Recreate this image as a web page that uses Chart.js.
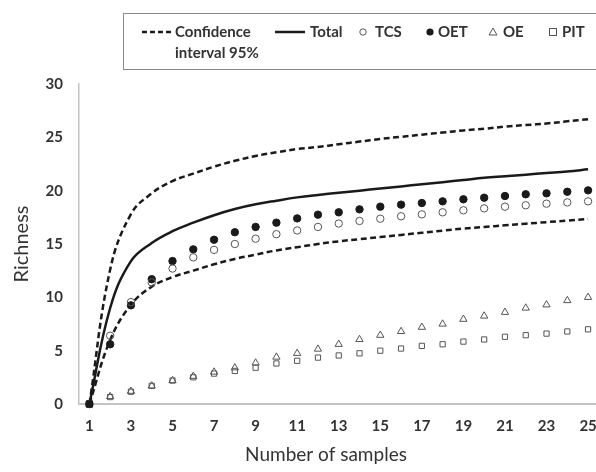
<!DOCTYPE html>
<html>
<head>
<meta charset="utf-8">
<style>
  html, body { margin: 0; padding: 0; background: #fff; overflow: hidden; }
  #wrap { width: 610px; height: 472px; }
</style>
</head>
<body>
<div id="wrap">
  <canvas id="myChart" width="610" height="472"></canvas>
</div>
<script src="https://cdn.jsdelivr.net/npm/chart.js"></script>
<script>
    // samples 1..25
    const samples = ['1','2','3','4','5','6','7','8','9','10','11','12','13','14','15','16','17','18','19','20','21','22','23','24','25'];

    const ciUpper = [0, 12.6, 17.8, 19.75, 20.9, 21.6, 22.25, 22.8, 23.25, 23.6, 23.9, 24.1, 24.35, 24.6, 24.85, 25.05, 25.25, 25.45, 25.65, 25.8, 26.0, 26.15, 26.3, 26.5, 26.7];
    const ciLower = [0, 6.0, 9.3, 11.0, 11.9, 12.5, 13.1, 13.6, 14.0, 14.4, 14.7, 15.0, 15.25, 15.45, 15.65, 15.85, 16.05, 16.25, 16.45, 16.6, 16.75, 16.9, 17.05, 17.2, 17.35];
    const total   = [0, 9.0, 13.4, 15.1, 16.2, 17.0, 17.7, 18.28, 18.72, 19.06, 19.37, 19.6, 19.8, 20.0, 20.2, 20.4, 20.6, 20.8, 21.0, 21.2, 21.35, 21.5, 21.65, 21.8, 22.0];
    const tcs     = [0, 6.4, 9.55, 11.4, 12.7, 13.75, 14.45, 15.0, 15.5, 15.92, 16.27, 16.6, 16.92, 17.16, 17.37, 17.6, 17.78, 17.97, 18.16, 18.34, 18.5, 18.63, 18.78, 18.9, 19.0];
    const oet     = [0, 5.6, 9.25, 11.7, 13.4, 14.5, 15.4, 16.1, 16.6, 17.0, 17.4, 17.75, 17.97, 18.25, 18.5, 18.69, 18.84, 19.0, 19.19, 19.34, 19.5, 19.66, 19.75, 19.9, 20.03];
    const oe      = [0, 0.7, 1.2, 1.7, 2.2, 2.6, 3.0, 3.4, 3.85, 4.4, 4.75, 5.15, 5.6, 6.05, 6.45, 6.8, 7.2, 7.5, 7.95, 8.25, 8.6, 9.0, 9.3, 9.7, 10.0];
    const pit     = [0, 0.65, 1.15, 1.7, 2.2, 2.5, 2.85, 3.1, 3.4, 3.8, 4.05, 4.35, 4.55, 4.75, 5.0, 5.2, 5.45, 5.6, 5.85, 6.05, 6.3, 6.45, 6.6, 6.8, 7.0];

    const yTicks = [0, 5, 10, 15, 20, 25, 30];

    const textColor = '#333333';
    const markColor = '#555555';
    const lineColor = '#1a1a1a';
    const fontFam = 'Lato, "Open Sans", sans-serif';

    // legend in a box + x axis title, drawn by hand
    const boxLegend = {
        id: 'boxLegend',
        afterDraw(chart) {
            const ctx = chart.ctx;
            ctx.save();
            ctx.strokeStyle = '#8a8a8a';
            ctx.lineWidth = 1;
            ctx.strokeRect(123.5, 13.5, 520, 56);

            ctx.strokeStyle = lineColor;
            ctx.lineWidth = 2.5;
            ctx.setLineDash([5, 3]);
            ctx.beginPath(); ctx.moveTo(142, 32); ctx.lineTo(171, 32); ctx.stroke();
            ctx.setLineDash([]);
            ctx.beginPath(); ctx.moveTo(275, 32); ctx.lineTo(305, 32); ctx.stroke();

            ctx.lineWidth = 1;
            ctx.strokeStyle = markColor;
            ctx.beginPath(); ctx.arc(363, 32, 3.2, 0, Math.PI * 2); ctx.stroke();
            ctx.fillStyle = lineColor;
            ctx.beginPath(); ctx.arc(430, 32, 3.6, 0, Math.PI * 2); ctx.fill();
            ctx.beginPath(); ctx.moveTo(493, 28); ctx.lineTo(497, 35); ctx.lineTo(489, 35); ctx.closePath(); ctx.stroke();
            ctx.strokeRect(549.5, 28.5, 7, 7);

            ctx.fillStyle = textColor;
            ctx.font = 'bold 15px ' + fontFam;
            ctx.textBaseline = 'middle';
            ctx.textAlign = 'left';
            ctx.fillText('Confidence', 175, 32);
            ctx.fillText('interval 95%', 175, 53);
            ctx.fillText('Total', 310, 32);
            ctx.fillText('TCS', 375, 32);
            ctx.fillText('OET', 438, 32);
            ctx.fillText('OE', 503, 32);
            ctx.fillText('PIT', 562, 32);

            ctx.font = '19px ' + fontFam;
            ctx.textAlign = 'center';
            ctx.fillText('Number of samples', 326, 455);
            ctx.restore();
        }
    };

    function scatterSet(label, data, style, filled) {
        return {
            label: label,
            data: data,
            showLine: false,
            pointStyle: style,
            pointRadius: style === 'triangle' ? 4.2 : 3.7,
            pointBorderWidth: 1,
            pointBorderColor: filled ? lineColor : markColor,
            pointBackgroundColor: filled ? lineColor : 'rgba(255,255,255,0)',
            borderColor: filled ? lineColor : markColor,
            backgroundColor: filled ? lineColor : 'rgba(255,255,255,0)',
            clip: false
        };
    }

    function lineSet(label, data, dashed) {
        return {
            label: label,
            data: data,
            borderColor: lineColor,
            borderWidth: 2.5,
            borderDash: dashed ? [6, 3.5] : [],
            pointRadius: 0,
            tension: 0.4,
            fill: false,
            clip: false
        };
    }

    const pitSet = scatterSet('PIT', pit, 'rect', false);
    pitSet.pointBackgroundColor = ctx => ctx.dataIndex === 0 ? lineColor : 'rgba(255,255,255,0)';
    pitSet.pointBorderColor = ctx => ctx.dataIndex === 0 ? lineColor : markColor;
    pitSet.pointRadius = ctx => ctx.dataIndex === 0 ? 4.5 : 3.7;

    const data = {
        labels: samples,
        datasets: [
            pitSet,
            scatterSet('TCS', tcs, 'circle', false),
            scatterSet('OE', oe, 'triangle', false),
            scatterSet('OET', oet, 'circle', true),
            lineSet('Confidence interval 95% (upper)', ciUpper, true),
            lineSet('Confidence interval 95% (lower)', ciLower, true),
            lineSet('Total', total, false)
        ]
    };

    const config = {
        type: 'line',
        data: data,
        plugins: [boxLegend],
        options: {
            responsive: false,
            animation: false,
            layout: { padding: { top: 84, right: 11, bottom: 0, left: 0 } },
            plugins: {
                legend: { display: false },
                tooltip: { enabled: false }
            },
            scales: {
                x: {
                    type: 'category',
                    offset: true,
                    grid: { display: false, drawTicks: false },
                    border: { display: true, color: '#c4c4c4', width: 2 },
                    ticks: {
                        autoSkip: false,
                        maxRotation: 0,
                        padding: 13,
                        color: textColor,
                        font: { family: fontFam, size: 15, weight: 'bold' },
                        callback: function(value, index) {
                            return index % 2 === 0 ? samples[index] : '';
                        }
                    },
                    afterFit: function(scale) { scale.height = 68; }
                },
                y: {
                    min: 0,
                    max: 30,
                    afterBuildTicks: function(scale) {
                        scale.ticks = yTicks.map(v => ({ value: v }));
                    },
                    grid: { display: false, drawTicks: false },
                    border: { display: true, color: '#c4c4c4', width: 1.5 },
                    ticks: {
                        padding: 16,
                        color: textColor,
                        font: { family: fontFam, size: 15, weight: 'bold' }
                    },
                    title: {
                        display: true,
                        text: 'Richness',
                        color: textColor,
                        padding: { top: 10, bottom: 0 },
                        font: { family: fontFam, size: 20 }
                    },
                    afterFit: function(scale) { scale.width = 79; }
                }
            }
        }
    };

    new Chart(document.getElementById('myChart'), config);
</script>
</body>
</html>
